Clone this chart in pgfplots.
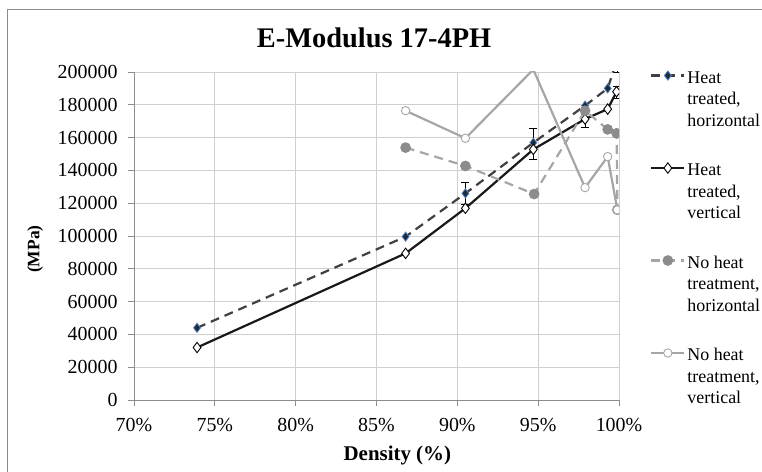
\documentclass[border=0pt]{standalone}
\usepackage{pgfplots}
\pgfplotsset{compat=1.18}
\usepackage{fontspec}
\setmainfont{Liberation Serif}
\definecolor{hthline}{HTML}{404040}
\definecolor{hthfill}{HTML}{1F2A3A}
\definecolor{hthedge}{HTML}{4F81BD}
\definecolor{nhgray}{HTML}{A6A6A6}
\definecolor{nhfill}{HTML}{8C8C8C}
\definecolor{gridc}{HTML}{CFCFCF}
\definecolor{axisc}{HTML}{8C8C8C}
\newcommand{\lgd}[1]{\begin{tabular}[t]{@{}l@{}}#1\end{tabular}}
\begin{document}
\begin{tikzpicture}
\path[use as bounding box] (-134bp,-72bp) rectangle (628bp,400bp);
\draw[color=axisc, line width=0.8bp] (-127bp,-100bp) rectangle (660bp,391bp);
\begin{axis}[
  at={(0bp,0bp)}, anchor=south west,
  scale only axis, width=485bp, height=328bp,
  xmin=70, xmax=100, ymin=0, ymax=200000,
  xtick={70,75,80,85,90,95,100},
  xticklabels={70\%,75\%,80\%,85\%,90\%,95\%,100\%},
  ytick={0,20000,40000,60000,80000,100000,120000,140000,160000,180000,200000},
  yticklabels={0,20000,40000,60000,80000,100000,120000,140000,160000,180000,200000},
  scaled y ticks=false,
  tick label style={font=\fontsize{20}{24}\selectfont},
  yticklabel style={xshift=-7bp},
  xticklabel style={yshift=-9bp},
  grid=major,
  major grid style={color=gridc, line width=0.7bp},
  axis x line*=bottom, axis y line*=left,
  axis line style={color=axisc, line width=0.8bp},
  tick style={color=axisc, line width=0.8bp},
  tick align=outside, major tick length=6bp,
  clip marker paths=true,
  title={E-Modulus 17-4PH},
  title style={font=\fontsize{28.5}{32}\selectfont\bfseries, anchor=base, at={(axis description cs:0.495,1)}, yshift=19bp},
  xlabel={Density (\%)},
  xlabel style={font=\fontsize{21}{24}\selectfont\bfseries, at={(axis description cs:0.543,0)}, anchor=base, yshift=-60bp},
  ylabel={(MPa)},
  ylabel style={font=\fontsize{17.5}{20}\selectfont\bfseries, at={(axis description cs:-0.204,0.46)}, anchor=center},
  legend style={at={(axis description cs:1.064,1.018)}, anchor=north west, draw=none, fill=none,
    font=\fontsize{18}{21.5}\selectfont, inner sep=0pt, row sep=72bp,
    nodes={inner sep=2bp}},
  legend cell align=left,
  legend image code/.code={\draw[mark repeat=2,mark phase=2,#1] plot coordinates {(0bp,1bp)(16.5bp,1bp)(33bp,1bp)};},
]
% error bars (drawn first, markers on top)
\addplot[forget plot, only marks, mark=none,
  error bars/.cd, y dir=both, y explicit,
  error bar style={draw=black, solid, line width=0.8bp},
  error mark options={draw=black, solid, rotate=90, mark size=4bp, line width=0.8bp}]
  coordinates {(90.5,126000) += (0,6500) -= (0,6500)
               (94.7,156900) += (0,8700) -= (0,10200)
               (99.9,208000) += (0,8500) -= (0,8500)};
\addplot[forget plot, only marks, mark=none,
  error bars/.cd, y dir=both, y explicit,
  error bar style={draw=black, solid, line width=0.8bp},
  error mark options={draw=black, solid, rotate=90, mark size=4bp, line width=0.8bp}]
  coordinates {(97.9,171300) += (0,5300) -= (0,5300)
               (99.85,187500) += (0,3600) -= (0,3600)};
% Heat treated, horizontal
\addplot[color=hthline, line width=2.2bp, dash pattern=on 9bp off 6bp,
  mark=diamond*, mark size=4.6bp, mark options={solid, fill=hthfill, draw=hthedge, line width=0.8bp}]
  coordinates {(73.9,44000) (86.8,99600) (90.5,126000) (94.7,156900) (97.9,179500) (99.3,190000) (99.9,208000)};
\addlegendentry{\lgd{Heat\\treated,\\horizontal}}
% Heat treated, vertical
\addplot[color=black!90, line width=2.2bp,
  mark=diamond*, mark size=5.2bp, mark options={solid, fill=white, draw=black, line width=0.9bp}]
  coordinates {(73.9,32000) (86.8,89400) (90.5,116900) (94.7,152800) (97.9,171300) (99.3,177400) (99.85,188000)};
\addlegendentry{\lgd{Heat\\treated,\\vertical}}
% No heat treatment, horizontal
\addplot[color=nhgray, line width=2.2bp, dash pattern=on 9bp off 6bp,
  mark=*, mark size=4.2bp, mark options={solid, fill=nhfill, draw=nhfill}]
  coordinates {(86.8,153900) (90.5,142700) (94.75,125600) (97.9,176400) (99.3,165000) (99.85,162600) (99.9,116000)};
\addlegendentry{\lgd{No heat\\treatment,\\horizontal}}
% No heat treatment, vertical
\addplot[color=nhgray, line width=2.2bp,
  mark=*, mark size=4.2bp, mark options={solid, fill=white, draw=nhgray, line width=0.9bp}]
  coordinates {(86.8,176400) (90.5,159600) (94.7,201500) (97.9,129500) (99.3,148400) (99.9,115900)};
\addlegendentry{\lgd{No heat\\treatment,\\vertical}}
\end{axis}
\end{tikzpicture}
\end{document}
